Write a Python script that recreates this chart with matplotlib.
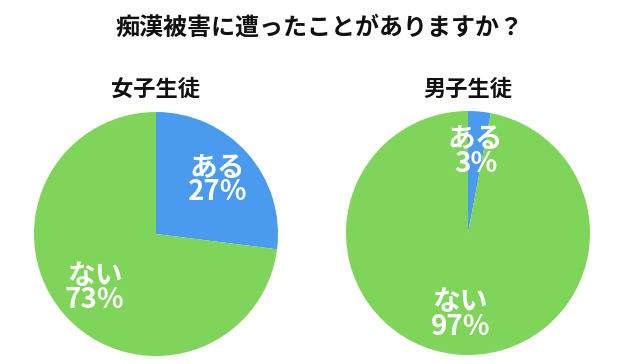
import matplotlib.pyplot as plt

plt.rcParams['font.family'] = ['Noto Sans CJK JP', 'DejaVu Sans']

title = '痴漢被害に遭ったことがありますか？'
groups = ['女子生徒', '男子生徒']
answers = ['ある', 'ない']
girls = [27, 73]
boys = [3, 97]

colors = ['#4a9bef', '#7fd45a']

fig = plt.figure(figsize=(6.43, 3.64), dpi=100)
fig.text(0.497, 1 - 28 / 364, title, ha='center', va='center',
         fontsize=17.3, fontweight='bold', color='#111111')

boxes = [[34 / 643, 8 / 364, 244 / 643, 244 / 364],
         [346 / 643, 9 / 364, 244 / 643, 244 / 364]]

for box, name, vals in zip(boxes, groups, [girls, boys]):
    ax = fig.add_axes(box)
    labels = [f'{a}\n{v}%' for a, v in zip(answers, vals)]
    wedges, texts = ax.pie(vals, labels=labels, colors=colors, startangle=90,
                           counterclock=False, labeldistance=0.67,
                           textprops=dict(color='white', fontsize=20,
                                          fontweight='bold', linespacing=0.85))
    for t in texts:
        t.set_ha('center')
        t.set_va('center')
    ax.set_xlim(-1, 1)
    ax.set_ylim(-1, 1)
    ax.set_aspect('equal')
    cx = box[0] + box[2] / 2
    fig.text(cx, 1 - 89 / 364, name, ha='center', va='center',
             fontsize=16, fontweight='bold', color='#111111')

fig.savefig('out.png', dpi=100, facecolor='white')
